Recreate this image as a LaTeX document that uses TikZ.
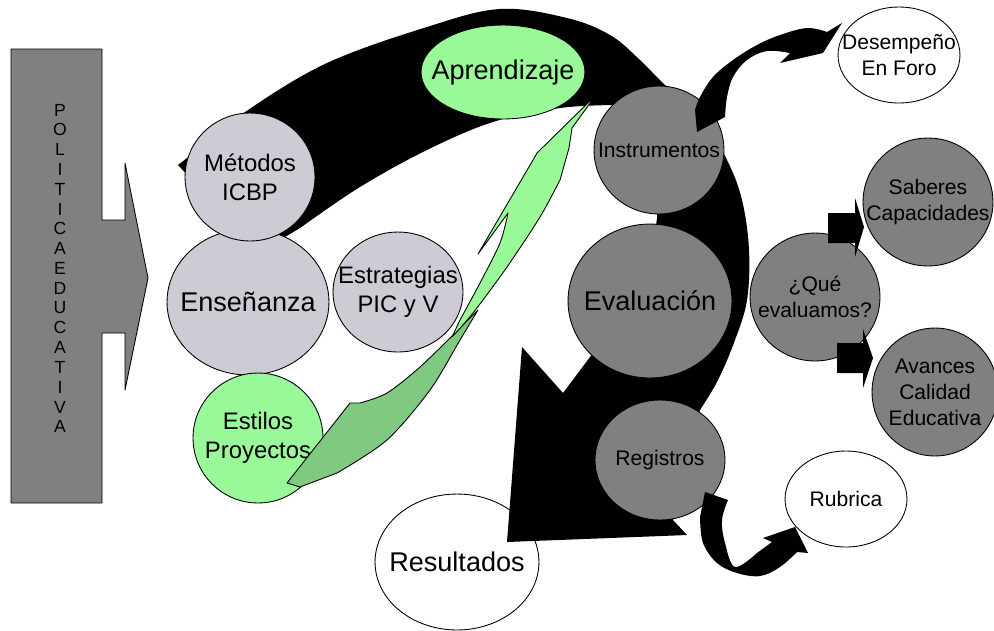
\documentclass[tikz,border=0pt]{standalone}
\usepackage{fontspec}
\setmainfont{Liberation Sans}
\usetikzlibrary{shapes.geometric}
\definecolor{lila}{RGB}{205,203,211}
\definecolor{gris}{RGB}{128,128,128}
\definecolor{verde}{RGB}{153,249,153}
\definecolor{verdeosc}{RGB}{128,201,128}
\tikzset{
  oval/.style 2 args={ellipse, draw, line width=.5pt, inner sep=0pt,
    minimum width=#1*0.04cm, minimum height=#2*0.04cm},
  txtbig/.style={font=\fontsize{15.4}{18.5}\selectfont, align=center, inner sep=0pt},
  txtmid/.style={font=\fontsize{13.6}{16.4}\selectfont, align=center, inner sep=0pt},
  txtsmall/.style={font=\fontsize{12}{14.8}\selectfont, align=center, inner sep=0pt},
  letra/.style={font=\fontsize{10}{12}\selectfont, inner sep=0pt},
  shape line/.style={draw=black, line width=.5pt, line join=round},
}
\begin{document}
\begin{tikzpicture}[x=0.02cm, y=-0.02cm]
  \useasboundingbox (0,0) rectangle (994,630);

  % politica educativa
  \filldraw[gris, shape line] (11,49) -- (102,49) -- (102,220) -- (125,220) -- (125,163)
    -- (148,278) -- (125,390) -- (125,333) -- (102,333) -- (102,503) -- (11,503) -- cycle;
  \foreach \ch [count=\i] in {P,O,L,I,T,I,C,A,E,D,U,C,A,T,I,V,A}
    \node[letra] (pol\i) at (60,{110+(\i-1)*19.8}) {\ch};

  \node[oval={82}{68}, fill=white] (res) at (457,562) {};
  \node[txtbig] (resT) at (res) {Resultados};

  % flecha grande
  \fill[black] (178,165) -- (192,180) -- (280,240)
    -- plot[smooth, tension=.6] coordinates {(300,228) (360,187) (427,150) (493,122) (560,108) (615,105)}
    -- plot[smooth, tension=.6] coordinates {(645,150) (657,218) (630,300) (590,357)}
    -- (563,393) -- (522,347) -- (507,542) -- (687,535) -- (673,520) -- (690,450)
    -- plot[smooth, tension=.6] coordinates {(700,410) (718,380) (735,340) (747,300) (749,250)
         (742,200) (727,160) (700,115) (665,85) (640,60) (610,35) (567,18) (500,9) (427,27)
         (327,63) (248,110) (200,148)} -- cycle;

  \node[oval={81}{73}, fill=lila] (ens) at (248,302) {};
  \node[txtbig] (ensT) at (ens) {Enseñanza};
  \node[oval={65}{64}, fill=lila] (met) at (250,177) {};
  \node[txtmid] (metT) at (met) {Métodos\\ICBP};
  \node[oval={65}{65}, fill=verde] (est) at (258,438) {};
  \node[txtmid] (estT) at (est) {Estilos\\Proyectos};
  \node[oval={65}{60}, fill=lila] (estr) at (398,292) {};
  \node[txtmid] (estrT) at (estr) {Estrategias\\PIC y V};
  \node[oval={82}{47}, fill=verde] (apr) at (503,72) {};
  \node[txtbig] (aprT) at (apr) {Aprendizaje};

  \node[oval={65}{64}, fill=gris] (ins) at (659,150) {};
  \node[txtsmall] (insT) at (ins) {Instrumentos};
  \node[oval={82}{77}, fill=gris] (eva) at (650,301) {};
  \node[txtbig] (evaT) at (eva) {Evaluación};
  \node[oval={65}{60}, fill=gris] (reg) at (660,460) {};
  \node[txtsmall] (regT) at (reg) {Registros};

  \node[oval={61}{48}, fill=white] (des) at (899,55) {};
  \node[txtsmall] (desT) at (des) {Desempeño\\En Foro};
  \node[oval={65}{64}, fill=gris] (sab) at (928,202) {};
  \node[txtsmall] (sabT) at (sab) {Saberes\\Capacidades};
  \node[oval={65}{64}, fill=gris] (que) at (815,297) {};
  \node[txtsmall] (queT) at (que) {¿Qué\\evaluamos?};
  \node[oval={63}{64}, fill=gris] (ava) at (935,392) {};
  \node[txtsmall] (avaT) at (ava) {Avances\\Calidad\\Educativa};
  \node[oval={61}{48}, fill=white] (rub) at (846,499) {};
  \node[txtsmall] (rubT) at (rub) {Rubrica};

  % rayo verde
  \filldraw[verdeosc, shape line] (478,310)
    -- plot[smooth, tension=.5] coordinates {(455,333) (420,367) (387,393) (360,403)}
    -- (350,403) -- (287,483) -- (300,487)
    -- plot[smooth, tension=.5] coordinates {(337,473) (387,440) (430,390) (460,340) (478,310)};
  \filldraw[verde, shape line] (596,95) -- (572,128) -- (569,148)
    -- plot[smooth, tension=.5] coordinates {(560,180) (540,217) (507,267) (473,313) (452,337)}
    -- plot[smooth, tension=.5] coordinates {(460,320) (480,283) (500,243) (508,213)}
    -- (478,254) -- (533,160) -- (537,153) -- cycle;

  % flechas pequenas
  \fill[black] (697,132)
    -- plot[smooth, tension=.6] coordinates {(695,110) (700,97) (713,77) (733,60) (757,45) (780,35) (807,28) (827,32)}
    -- (842,23) -- (823,53) -- (780,63)
    -- plot[smooth, tension=.6] coordinates {(790,53) (767,51) (747,60) (733,77) (727,97) (725,117)} -- cycle;
  \fill[black] (705,492)
    -- plot[smooth, tension=.6] coordinates {(700,517) (703,543) (717,563) (737,573) (760,576) (780,567) (797,552)}
    -- (808,553) -- (795,527) -- (763,538) -- (772,542)
    -- plot[smooth, tension=.6] coordinates {(757,553) (735,567) (725,543) (722,520) (728,500)} -- cycle;
  \fill[black] (828,213) -- (855,213) -- (855,198) -- (864,227) -- (855,257) -- (855,243) -- (828,243) -- cycle;
  \fill[black] (837,343) -- (863,343) -- (863,329) -- (873,358) -- (863,388) -- (863,373) -- (837,373) -- cycle;
\end{tikzpicture}
\end{document}
